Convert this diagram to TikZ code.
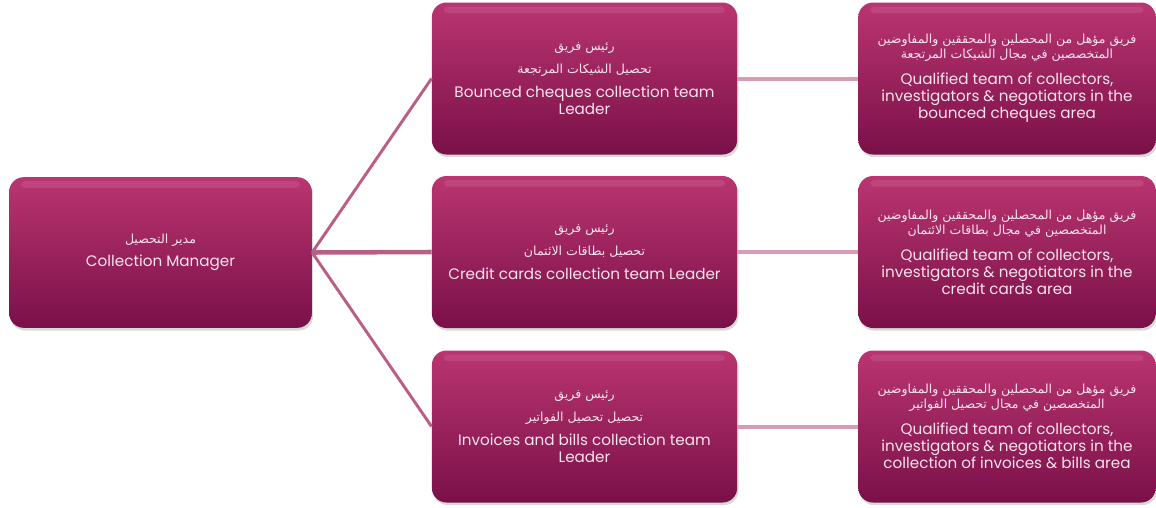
\documentclass[tikz,border=0pt]{standalone}
\usepackage{fontspec}
\setmainfont{Poppins}
\newfontfamily\arabicfont[Script=Arabic]{DejaVu Sans}
\TeXXeTstate=1
\usetikzlibrary{shadows}
\definecolor{boxtop}{HTML}{BA3571}
\definecolor{boxbot}{HTML}{7A1048}
\definecolor{boxtxt}{HTML}{F7E4ED}
\definecolor{leftline}{HTML}{B95E85}
\definecolor{rightline}{HTML}{D99BB5}
\newcommand\artxt[1]{{\arabicfont\fontsize{9.4}{11}\selectfont\beginR #1\endR}}

\begin{document}
\begin{tikzpicture}[line cap=butt,line join=round,x=0.75pt,y=-0.75pt,
  box/.style={rounded corners=11pt,top color=boxtop,bottom color=boxbot,
    text=boxtxt,align=center,inner sep=2pt,
    font=\fontsize{11.4}{12.75}\selectfont,
    drop shadow={shadow xshift=1pt,shadow yshift=-2pt,opacity=.3},
    path picture={\fill[white,opacity=.09,rounded corners=3pt]
      ([xshift=9pt,yshift=-3pt]path picture bounding box.north west) rectangle
      ([xshift=-9pt,yshift=-8pt]path picture bounding box.north east);}},
  bossbox/.style={box,minimum width=227pt,minimum height=113pt},
  leadbox/.style={box,minimum width=229pt,minimum height=114pt},
  teambox/.style={box,minimum width=223pt,minimum height=114pt},
  spoke/.style={draw=leftline,line width=2.2pt},
  link/.style={draw=rightline,line width=3pt}]
\useasboundingbox (0,0) rectangle (1156,507);
% manager
\node[bossbox] (boss) at (160.5,252.5) {\artxt{مدير التحصيل}\\[4.5pt]
  Collection Manager};
% team leaders
\node[leadbox] (lead1) at (584.5,78.5) {\artxt{رئيس فريق}\\[5pt]
  \artxt{تحصيل الشيكات المرتجعة}\\[5pt]
  Bounced cheques collection team\\Leader};
\node[leadbox] (lead2) at (584.5,252) {\artxt{رئيس فريق}\\[5pt]
  \artxt{تحصيل بطاقات الائتمان}\\[5pt]
  Credit cards collection team Leader};
\node[leadbox] (lead3) at (584.5,426.5) {\artxt{رئيس فريق}\\[5pt]
  \artxt{تحصيل تحصيل الفواتير}\\[5pt]
  Invoices and bills collection team\\Leader};
% teams
\node[teambox] (team1) at (1007,78.5) {\artxt{فريق مؤهل من المحصلين والمحققين والمفاوضين}\\[-1.5pt]
  \artxt{المتخصصين في مجال الشيكات المرتجعة}\\[6.5pt]
  Qualified team of collectors,\\investigators \& negotiators in the\\bounced cheques area};
\node[teambox] (team2) at (1007,252) {\artxt{فريق مؤهل من المحصلين والمحققين والمفاوضين}\\[-1.5pt]
  \artxt{المتخصصين في مجال بطاقات الائتمان}\\[6.5pt]
  Qualified team of collectors,\\investigators \& negotiators in the\\credit cards area};
\node[teambox] (team3) at (1007,426.5) {\artxt{فريق مؤهل من المحصلين والمحققين والمفاوضين}\\[-1.5pt]
  \artxt{المتخصصين في مجال تحصيل الفواتير}\\[6.5pt]
  Qualified team of collectors,\\investigators \& negotiators in the\\collection of invoices \& bills area};
% connectors
\draw[spoke] (boss.east) -- (lead1.west);
\draw[spoke,line width=3.4pt] (boss.east) -- (lead2.west);
\draw[spoke] (boss.east) -- (lead3.west);
\draw[link] (lead1.east) -- (team1.west);
\draw[link] (lead2.east) -- (team2.west);
\draw[link] (lead3.east) -- (team3.west);
\end{tikzpicture}
\end{document}
